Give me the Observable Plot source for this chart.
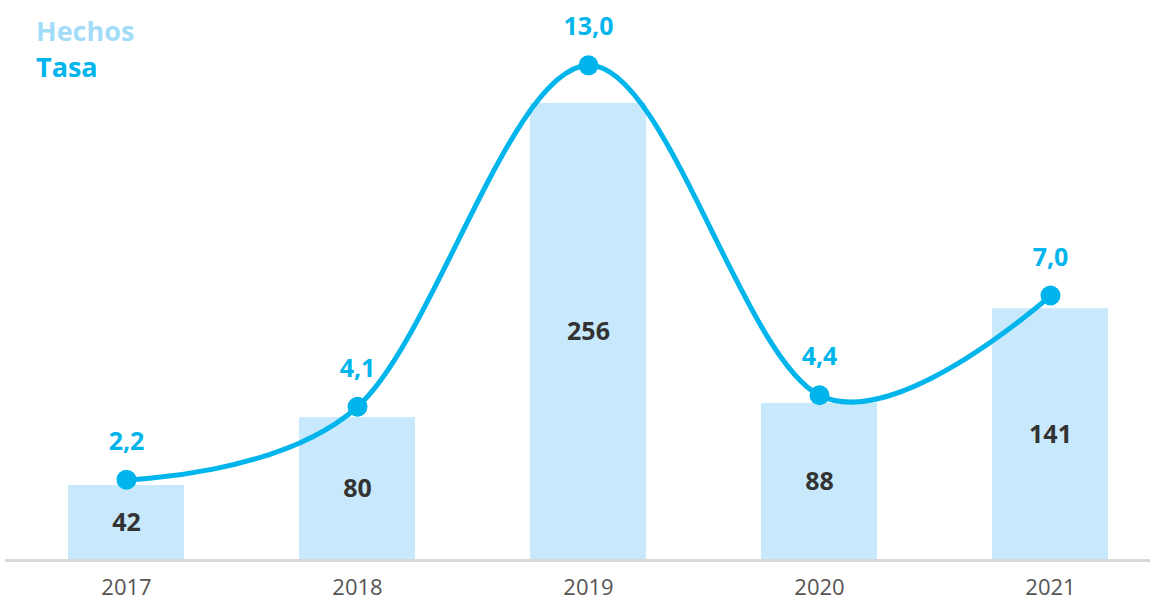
<!DOCTYPE html>
<html>
<head>
<meta charset="utf-8">
<script src="https://cdn.jsdelivr.net/npm/d3@7"></script>
<script src="https://cdn.jsdelivr.net/npm/@observablehq/plot@0.6"></script>
<style>
  html, body { margin: 0; padding: 0; background: #fff; }
  #wrap { position: relative; width: 1153px; height: 602px; font-family: "Open Sans", "Noto Sans", sans-serif; }
  #legend { position: absolute; left: 36px; top: 13px; font-weight: 700; font-size: 27px; line-height: 36px; }
  #legend .h { color: #a3dcf8; }
  #legend .t { color: #00b4ec; }
</style>
</head>
<body>
<div id="wrap">
  <div id="chart"></div>
  <div id="legend"><div class="h">Hechos</div><div class="t">Tasa</div></div>
</div>
<script>
const years = ["2017", "2018", "2019", "2020", "2021"];
const hechos = [42, 80, 256, 88, 141];
const tasa = [2.2, 4.1, 13.0, 4.4, 7.0];
const tasaLabels = ["2,2", "4,1", "13,0", "4,4", "7,0"];

// secondary axis for Tasa mapped onto Hechos units
const tasaScale = d3.scaleLinear().domain([0, 13]).range([-2, 277.3]);

const data = years.map((y, i) => ({year: y, hechos: hechos[i], tasa: tasa[i], tasaY: tasaScale(tasa[i]), tasaLabel: tasaLabels[i]}));

const chart = Plot.plot({
  width: 1153,
  height: 602,
  marginLeft: 5,
  marginRight: 3,
  marginTop: 60,
  marginBottom: 42,
  style: {fontFamily: "'Open Sans', 'Noto Sans', sans-serif", background: "#fff"},
  x: {domain: years, range: [9, 1166], paddingInner: 0.5, paddingOuter: 0.25, label: null},
  y: {domain: [0, 280], axis: null},
  marks: [
    Plot.barY(data, {x: "year", y: "hechos", fill: "#c7e9fb"}),
    Plot.ruleY([0], {stroke: "#d9d9d9", strokeWidth: 3}),
    Plot.text(data, {x: "year", y: d => d.hechos / 2, text: d => String(d.hechos), fill: "#333", fontWeight: 700, fontSize: 25}),
    Plot.line(data, {x: "year", y: "tasaY", stroke: "#00b4ec", strokeWidth: 5, curve: "cardinal"}),
    Plot.dot(data, {x: "year", y: "tasaY", r: 10, fill: "#00b4ec"}),
    Plot.text(data, {x: "year", y: "tasaY", text: "tasaLabel", dy: -38, fill: "#00b4ec", fontWeight: 700, fontSize: 25}),
    Plot.axisX({tickSize: 0, tickPadding: 19, fontSize: 22, color: "#555", label: null})
  ]
});
document.getElementById("chart").appendChild(chart);
</script>
</body>
</html>
